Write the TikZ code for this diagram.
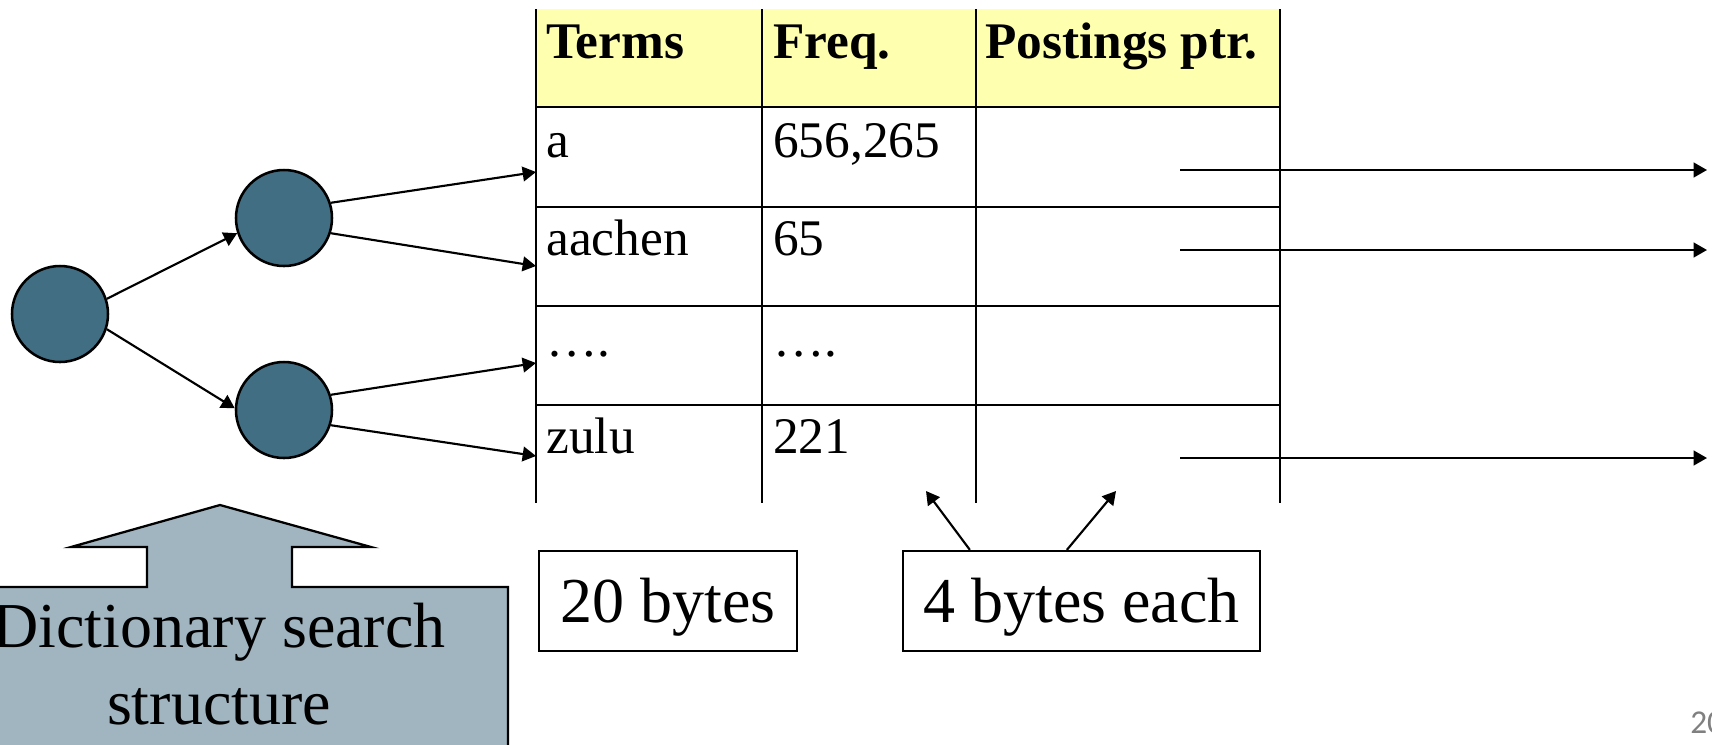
\documentclass[tikz,border=0pt]{standalone}
\usepackage{fontspec}
\setmainfont{Liberation Serif}
\newfontfamily\pagenumfont{Carlito}
\usetikzlibrary{arrows.meta}

\definecolor{nodeteal}{RGB}{66,110,131}
\definecolor{headyellow}{RGB}{255,255,176}
\definecolor{calloutblue}{RGB}{160,181,192}
\definecolor{pagegray}{RGB}{128,128,128}

\begin{document}
\begin{tikzpicture}[x=0.75pt,y=-0.75pt,
  treenode/.style={circle,draw=black,line width=1.9pt,fill=nodeteal,minimum size=72pt,inner sep=0pt},
  link/.style={line width=1.6pt,-{Triangle[length=10pt,width=11pt]}},
  gridline/.style={line width=1.9pt},
  headtext/.style={anchor=base west,inner sep=0pt,font=\fontsize{38.5}{40}\selectfont\bfseries},
  celltext/.style={anchor=base west,inner sep=0pt,font=\fontsize{38.5}{40}\selectfont},
  sizebox/.style={draw=black,line width=1.7pt,minimum height=75pt,inner sep=0pt,
    font=\fontsize{48}{50}\selectfont,text height=39pt,text depth=7.5pt},
  bigtext/.style={anchor=base,inner sep=0pt,font=\fontsize{48}{50}\selectfont}
]
\useasboundingbox (0,0) rectangle (1712,744);
\clip (0,0) rectangle (1712,744);

% dictionary table
\fill[headyellow] (536,9) rectangle (1280,107);
\foreach \y in {107,207,306,405} \draw[gridline] (536,\y) -- (1280,\y);
\foreach \x in {536,762,976,1280} \draw[gridline] (\x,9) -- (\x,503);

\node[headtext] (hterms) at (546,58) {Terms};
\node[headtext] (hfreq)  at (773,58) {Freq.};
\node[headtext] (hptr)   at (985,58) {Postings ptr.};

\node[celltext] (ta) at (546,157) {a};
\node[celltext] (fa) at (773,157) {656,265};
\node[celltext] (tb) at (546,255) {aachen};
\node[celltext] (fb) at (773,255) {65};
\node[celltext] (tc) at (546,356) {….};
\node[celltext] (fc) at (773,356) {….};
\node[celltext] (td) at (546,453) {zulu};
\node[celltext] (fd) at (773,453) {221};

% postings pointers leaving the table
\coordinate (pa1) at (1180,170); \coordinate (pb1) at (1707,170);
\coordinate (pa2) at (1180,250); \coordinate (pb2) at (1707,250);
\coordinate (pa3) at (1180,458); \coordinate (pb3) at (1707,458);
\draw[link] (pa1) -- (pb1);
\draw[link] (pa2) -- (pb2);
\draw[link] (pa3) -- (pb3);

% search tree
\node[treenode] (root) at (60,314) {};
\node[treenode] (up)   at (284,218) {};
\node[treenode] (low)  at (284,410) {};
\draw[link] (root.18) -- (up.198);
\draw[link] (root.-18) -- (low.178);

\coordinate (t1) at (536,172);
\coordinate (t2) at (536,266);
\coordinate (t3) at (536,363);
\coordinate (t4) at (536,456);
\draw[link] (up.18) -- (t1);
\draw[link] (up.-18) -- (t2);
\draw[link] (low.18) -- (t3);
\draw[link] (low.-18) -- (t4);

% size labels
\node[sizebox,minimum width=193.5pt] (b20) at (668,601) {20 bytes};
\node[sizebox,minimum width=267.75pt] (b4) at (1081.5,601) {4 bytes each};
\coordinate (f1) at (926,491);
\coordinate (f2) at (1116,491);
\draw[link] ([xshift=51pt]b4.north west) -- (f1);
\draw[link] ([xshift=123.75pt]b4.north west) -- (f2);

% callout arrow
\draw[fill=calloutblue,line width=1.7pt]
  (-80,800) -- (-80,587) -- (147,587) -- (147,547) -- (71,547) -- (220,505)
  -- (371,547) -- (292,547) -- (292,587) -- (508,587) -- (508,800) -- cycle;
\node[bigtext] (dict1) at (219,647) {Dictionary search};
\node[bigtext] (dict2) at (219,724) {structure};

% slide number
\node[anchor=base west,inner sep=0pt,text=pagegray,font=\pagenumfont\fontsize{25}{26}\selectfont] (pnum) at (1690,733) {20};
\end{tikzpicture}
\end{document}
